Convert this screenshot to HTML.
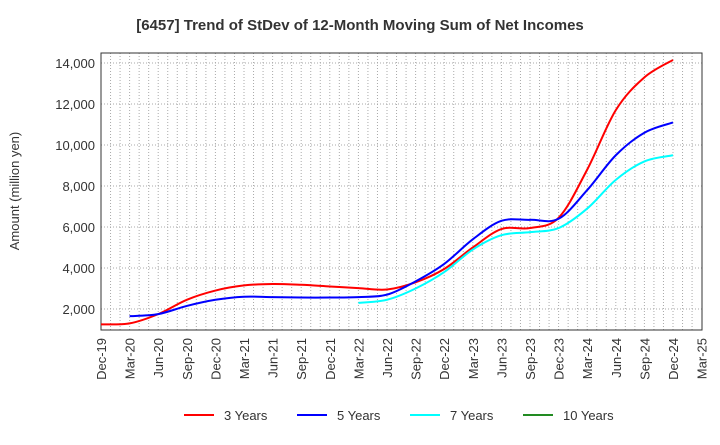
<!DOCTYPE html>
<html><head><meta charset="utf-8"><style>
body{margin:0;background:#fff;font-family:"Liberation Sans",sans-serif}
</style></head><body>
<svg id="c" width="720" height="440" xmlns="http://www.w3.org/2000/svg" font-family="Liberation Sans, sans-serif">
<text x="360" y="30" text-anchor="middle" font-size="15" font-weight="bold" fill="#333">[6457]  Trend of StDev of 12-Month Moving Sum of Net Incomes</text>
<text transform="translate(19,191) rotate(-90)" text-anchor="middle" font-size="13" fill="#333">Amount (million yen)</text>
<g id="grid"></g><g id="axes"></g><g id="series"></g><g id="legend"></g>
</svg>
<script>
const xLabels=["Dec-19","Mar-20","Jun-20","Sep-20","Dec-20","Mar-21","Jun-21","Sep-21","Dec-21","Mar-22","Jun-22","Sep-22","Dec-22","Mar-23","Jun-23","Sep-23","Dec-23","Mar-24","Jun-24","Sep-24","Dec-24","Mar-25"];
const yTicks=[2000,4000,6000,8000,10000,12000,14000];
const s3=[1250,1300,1750,2450,2900,3150,3220,3180,3100,3020,2950,3300,3950,5000,5900,5950,6450,8800,11700,13300,14150];
const s5=[null,1650,1750,2150,2450,2600,2580,2560,2560,2580,2700,3350,4200,5400,6300,6350,6400,7800,9500,10600,11100];
const s7=[null,null,null,null,null,null,null,null,null,2300,2450,3000,3800,4900,5600,5750,5950,6900,8300,9200,9500];
const s10=[];
const NS="http://www.w3.org/2000/svg";
const L=101,R=702,T=53,B=330;
const x=i=>L+i*28.6;
const y=v=>309-(v-2000)*0.0205;
function mk(t,a,p){const e=document.createElementNS(NS,t);for(const k in a)e.setAttribute(k,a[k]);p.appendChild(e);return e;}
const grid=document.getElementById('grid'),axes=document.getElementById('axes'),ser=document.getElementById('series'),leg=document.getElementById('legend');
for(let m=1;m<63;m++){const xx=L+m*28.6/3;const g=mk('line',{x1:xx,x2:xx,y1:T,y2:B,stroke:'#aaa','stroke-dasharray':'1,2','stroke-width':1},grid);

}
yTicks.forEach(v=>{const g=mk('line',{x1:L,x2:R,y1:y(v),y2:y(v),stroke:'#aaa','stroke-dasharray':'1,2'},grid);


const t=mk('text',{x:L-6,y:y(v)+5,'text-anchor':'end','font-size':13,fill:'#333'},axes);t.textContent=v.toLocaleString('en-US');

});
const fr=mk('rect',{x:L,y:T,width:R-L,height:B-T,fill:'none',stroke:'#333'},axes);


xLabels.forEach((s,i)=>{const t=mk('text',{transform:`translate(${x(i)+5},${B+8}) rotate(-90)`,'text-anchor':'end','font-size':13,fill:'#333'},axes);t.textContent=s;

});
function path(arr){const pts=[];arr.forEach((v,i)=>{if(v!=null)pts.push([x(i),y(v)]);});if(pts.length<2)return '';
let d=`M${pts[0][0]},${pts[0][1]}`;for(let i=0;i<pts.length-1;i++){const p0=pts[i-1]||pts[i],p1=pts[i],p2=pts[i+1],p3=pts[i+2]||p2;
d+=` C${p1[0]+(p2[0]-p0[0])/6},${p1[1]+(p2[1]-p0[1])/6} ${p2[0]-(p3[0]-p1[0])/6},${p2[1]-(p3[1]-p1[1])/6} ${p2[0]},${p2[1]}`;}return d;}
[[s3,'#f00','3 Years','line-3-years'],[s5,'#00f','5 Years','line-5-years'],[s7,'#0ff','7 Years','line-7-years'],[s10,'#228b22','10 Years','line-10-years']].forEach((s,k)=>{
const d=path(s[0]);if(d){const p=mk('path',{d:d,fill:'none',stroke:s[1],'stroke-width':2},ser);

}
const lx=[184,297,410,523][k];
const g=mk('g',{},leg);


mk('line',{x1:lx,x2:lx+30,y1:415,y2:415,stroke:s[1],'stroke-width':2},g);
const t=mk('text',{x:lx+40,y:420,'font-size':13,fill:'#333'},g);t.textContent=s[2];});
</script>
</body></html>
